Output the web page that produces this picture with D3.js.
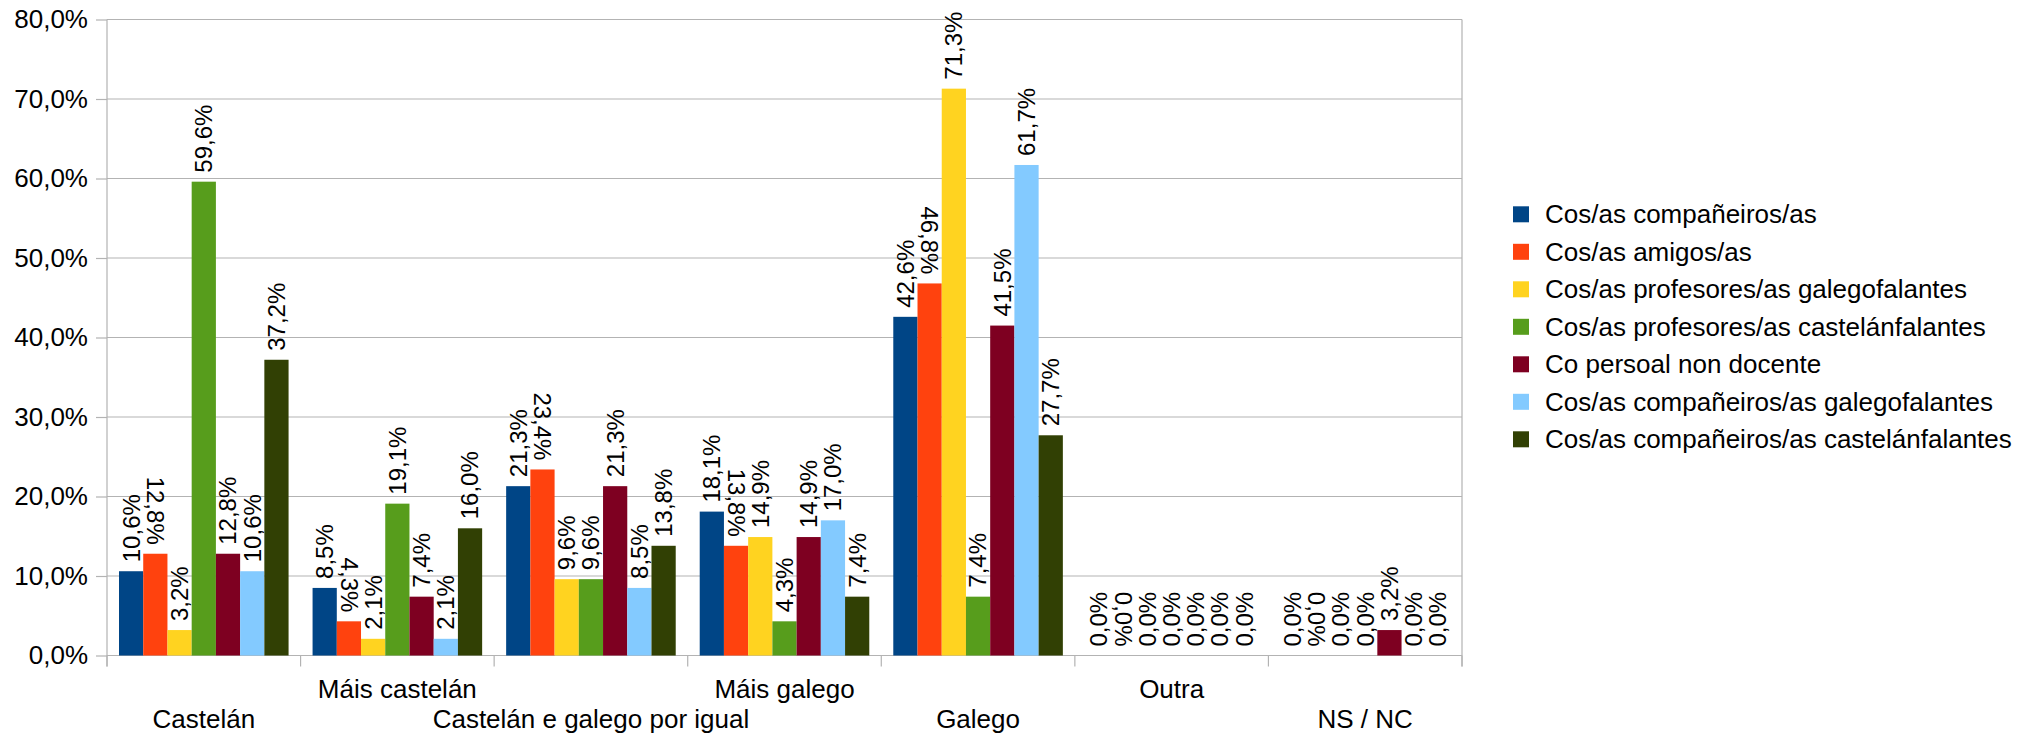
<!DOCTYPE html>
<html>
<head>
<meta charset="utf-8">
<script src="https://cdn.jsdelivr.net/npm/d3@7"></script>
<style>
    body { margin: 0; background: #ffffff; }
    svg text { font-family: "Liberation Sans", Arial, sans-serif; fill: #000000; }
</style>
</head>
<body>
<script>
"use strict";

// Categories (x axis)
const categories = ["Castelán", "Máis castelán", "Castelán e galego por igual", "Máis galego", "Galego", "Outra", "NS / NC"];

// Series names (legend)
const seriesNames = [
    "Cos/as compañeiros/as",
    "Cos/as amigos/as",
    "Cos/as profesores/as galegofalantes",
    "Cos/as profesores/as castelánfalantes",
    "Co persoal non docente",
    "Cos/as compañeiros/as galegofalantes",
    "Cos/as compañeiros/as castelánfalantes"
];

// Values in percent, one array per series
const companeiros = [10.6, 8.5, 21.3, 18.1, 42.6, 0, 0];
const amigos = [12.8, 4.3, 23.4, 13.8, 46.8, 0, 0];
const profesGalego = [3.2, 2.1, 9.6, 14.9, 71.3, 0, 0];
const profesCastelan = [59.6, 19.1, 9.6, 4.3, 7.4, 0, 0];
const persoal = [12.8, 7.4, 21.3, 14.9, 41.5, 0, 3.2];
const companeirosGalego = [10.6, 2.1, 8.5, 17.0, 61.7, 0, 0];
const companeirosCastelan = [37.2, 16.0, 13.8, 7.4, 27.7, 0, 0];

// Y axis tick values
const yTicks = [0, 10, 20, 30, 40, 50, 60, 70, 80];

(function () {

    const seriesValues = [companeiros, amigos, profesGalego, profesCastelan, persoal, companeirosGalego, companeirosCastelan]

    // Colors (LibreOffice default palette)
    const colors = ["#004586", "#ff420e", "#ffd320", "#579d1c", "#7e0021", "#83caff", "#314004"]

    // Dimensions for svg
    const measurements = {
        width: 2040,
        height: 737,
        left: 107,
        right: 1462,
        top: 19.5,
        bottom: 655.5,
        groupPad: 12,
        legendX: 1513,
        legendY: 214.3,
        legendStep: 37.5
    }

    // Comma decimal, like the original
    const locale = d3.formatLocale({ decimal: ",", thousands: ".", grouping: [3], currency: ["", "€"] })
    const fmt = (v) => locale.format(".1f")(v) + "%"

    const svgContainer = d3.select("body").append("svg")
        .attr("width", measurements.width)
        .attr("height", measurements.height)

    // Scales
    const scaleX = d3.scaleBand()
        .domain(categories)
        .range([measurements.left, measurements.right])

    const scaleInner = d3.scaleBand()
        .domain(d3.range(seriesNames.length))
        .range([measurements.groupPad, scaleX.bandwidth() - measurements.groupPad])

    const scaleY = d3.scaleLinear()
        .domain([0, 80])
        .range([measurements.bottom, measurements.top])

    // Gridlines
    svgContainer.append("g")
        .selectAll("line")
        .data(yTicks)
        .enter()
        .append("line")
        .attr("x1", measurements.left)
        .attr("x2", measurements.right)
        .attr("y1", (d) => scaleY(d))
        .attr("y2", (d) => scaleY(d))
        .attr("stroke", "#b3b3b3")
        .attr("stroke-width", 1.2)

    // Right border of the plot area
    svgContainer.append("line")
        .attr("x1", measurements.right)
        .attr("x2", measurements.right)
        .attr("y1", measurements.top)
        .attr("y2", measurements.bottom + 11)
        .attr("stroke", "#b3b3b3")
        .attr("stroke-width", 1.2)

    // Y axis
    const yAxis = d3.axisLeft(scaleY)
        .tickValues(yTicks)
        .tickFormat(fmt)
        .tickSize(11)
        .tickPadding(8)

    const gy = svgContainer.append("g")
        .attr("transform", "translate(" + measurements.left + ",0)")
        .call(yAxis)
    gy.select(".domain")
        .attr("d", "M0," + measurements.top + "V" + (measurements.bottom + 11))
    gy.selectAll("path, line").attr("stroke", "#b3b3b3").attr("stroke-width", 1.2)
    gy.selectAll("text")
        .style("font-size", "26px")
        .attr("fill", "#000")

    // X axis: ticks on the category boundaries
    const boundaries = categories.map((c) => scaleX(c)).concat([measurements.right])
    svgContainer.append("g")
        .selectAll("line")
        .data(boundaries)
        .enter()
        .append("line")
        .attr("x1", (d) => d)
        .attr("x2", (d) => d)
        .attr("y1", measurements.bottom)
        .attr("y2", measurements.bottom + 11)
        .attr("stroke", "#b3b3b3")
        .attr("stroke-width", 1.2)

    svgContainer.append("line")
        .attr("x1", measurements.left)
        .attr("x2", measurements.right)
        .attr("y1", measurements.bottom)
        .attr("y2", measurements.bottom)
        .attr("stroke", "#b3b3b3")
        .attr("stroke-width", 1.2)

    // Staggered category labels
    svgContainer.append("g")
        .selectAll("text")
        .data(categories)
        .enter()
        .append("text")
        .attr("x", (d) => scaleX(d) + scaleX.bandwidth() / 2)
        .attr("y", (d, i) => i % 2 === 0 ? 728 : 698)
        .attr("text-anchor", "middle")
        .style("font-size", "26px")
        .text((d) => d)

    // Bars
    const groups = svgContainer.selectAll(".series")
        .data(seriesValues)
        .enter()
        .append("g")
        .attr("class", "series")
        .attr("fill", (d, i) => colors[i])

    groups.each(function (values, si) {
        const g = d3.select(this)
        g.selectAll("rect")
            .data(values)
            .enter()
            .append("rect")
            .attr("x", (d, ci) => scaleX(categories[ci]) + scaleInner(si))
            .attr("y", (d) => scaleY(d))
            .attr("width", scaleInner.bandwidth())
            .attr("height", (d) => measurements.bottom - scaleY(d))

        // Data labels, rotated; the second series reads the other way
        g.selectAll("text")
            .data(values)
            .enter()
            .append("text")
            .attr("transform", (d, ci) => {
                const cx = scaleX(categories[ci]) + scaleInner(si) + scaleInner.bandwidth() / 2
                const cy = scaleY(d) - 9
                return "translate(" + cx + "," + cy + ")rotate(" + (si === 1 ? 90 : -90) + ")"
            })
            .attr("text-anchor", si === 1 ? "end" : "start")
            .attr("dy", "0.35em")
            .style("font-size", "24px")
            .text(fmt)
    })

    // Legend
    const legend = svgContainer.selectAll(".legend")
        .data(seriesNames)
        .enter()
        .append("g")
        .attr("class", "legend")
        .attr("transform", (d, i) => "translate(" + measurements.legendX + "," + (measurements.legendY + i * measurements.legendStep) + ")")

    legend.append("rect")
        .attr("x", 0)
        .attr("y", -8)
        .attr("width", 16)
        .attr("height", 16)
        .attr("fill", (d, i) => colors[i])

    legend.append("text")
        .attr("x", 32)
        .attr("dy", "0.35em")
        .style("font-size", "26px")
        .text((d) => d)

})()
</script>
</body>
</html>
